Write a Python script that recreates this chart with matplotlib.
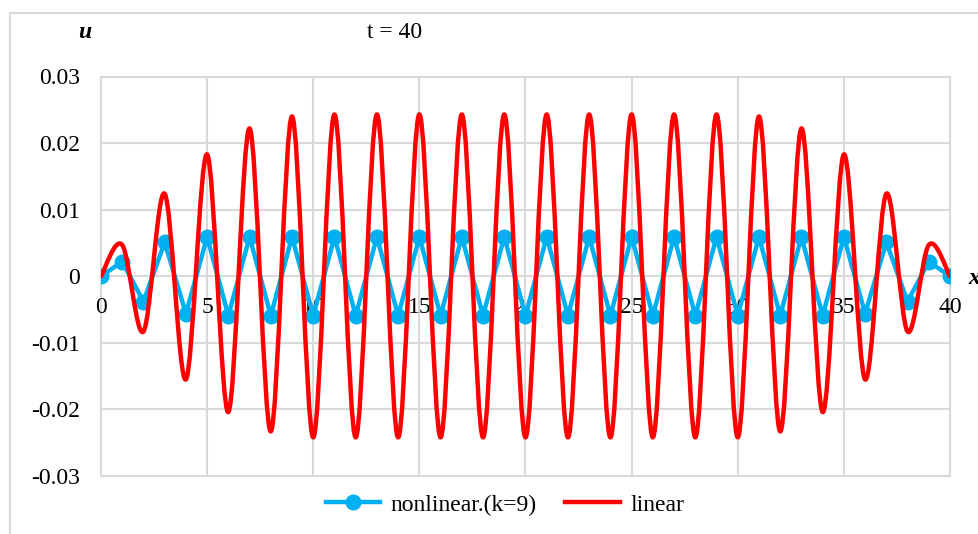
import matplotlib
matplotlib.use("Agg")
import matplotlib.pyplot as plt
from matplotlib.path import Path
from matplotlib.patches import PathPatch, Rectangle
from matplotlib.lines import Line2D

plt.rcParams['font.family'] = ['Liberation Serif', 'DejaVu Serif']
plt.rcParams['font.size'] = 17

# grid positions along the rod
x = list(range(0, 41))

# nonlinear solution (k=9), one value per grid point
nonlinear = [0, 0.0022, -0.0038, 0.0051, -0.0056, 0.0059, -0.0059, 0.0059, -0.0059, 0.0059,
             -0.0059, 0.0059, -0.0059, 0.0059, -0.0059, 0.0059, -0.0059, 0.0059, -0.0059, 0.0059,
             -0.0059, 0.0059, -0.0059, 0.0059, -0.0059, 0.0059, -0.0059, 0.0059, -0.0059, 0.0059,
             -0.0059, 0.0059, -0.0059, 0.0059, -0.0059, 0.0059, -0.0056, 0.0051, -0.0038, 0.0022, 0]

# linear solution
linear = [0, 0.0047, -0.0083, 0.0124, -0.0155, 0.0183, -0.0204, 0.0222, -0.0233, 0.0240,
          -0.0242, 0.0243, -0.0242, 0.0243, -0.0242, 0.0243, -0.0242, 0.0243, -0.0242, 0.0243,
          -0.0242, 0.0243, -0.0242, 0.0243, -0.0242, 0.0243, -0.0242, 0.0243, -0.0242, 0.0243,
          -0.0242, 0.0240, -0.0233, 0.0222, -0.0204, 0.0183, -0.0155, 0.0124, -0.0083, 0.0047, 0]

xticks = [0, 5, 10, 15, 20, 25, 30, 35, 40]
yticks = [-0.03, -0.02, -0.01, 0, 0.01, 0.02, 0.03]
ytick_labels = ["-0.03", "-0.02", "-0.01", "0", "0.01", "0.02", "0.03"]

BLUE = "#00B0F0"
RED = "#FF0000"
GRID = "#D9D9D9"
LW = 3.2
MS = 10.5


def smooth_path(xs, ys):
    """bezier path through the points, same kind of smoothing a spreadsheet uses"""
    pts = list(zip(xs, ys))
    n = len(pts)
    verts = [pts[0]]
    codes = [Path.MOVETO]
    for i in range(n - 1):
        p0 = pts[i - 1] if i > 0 else pts[i]
        p1 = pts[i]
        p2 = pts[i + 1]
        p3 = pts[i + 2] if i + 2 < n else pts[i + 1]
        c1 = (p1[0] + (p2[0] - p0[0]) / 6, p1[1] + (p2[1] - p0[1]) / 6)
        c2 = (p2[0] - (p3[0] - p1[0]) / 6, p2[1] - (p3[1] - p1[1]) / 6)
        verts += [c1, c2, p2]
        codes += [Path.CURVE4] * 3
    return Path(verts, codes)


fig = plt.figure(figsize=(9.79, 5.34), dpi=100)
ax = fig.add_axes([101 / 979, 58 / 534, 849 / 979, 399.5 / 534])

ax.plot(x, nonlinear, color=BLUE, lw=LW, marker="o", ms=MS, zorder=3)
ax.add_patch(PathPatch(smooth_path(x, linear), fill=False, edgecolor=RED, lw=LW,
                       zorder=4, capstyle="round", joinstyle="round"))

ax.set_xlim(0, 40)
ax.set_ylim(-0.03, 0.03)
ax.set_xticks(xticks)
ax.set_xticklabels([str(t) for t in xticks])
ax.set_yticks(yticks)
ax.set_yticklabels(ytick_labels)

# x labels hang under the zero line
ax.spines['bottom'].set_position(('data', 0))
for s in ax.spines.values():
    s.set_visible(False)
ax.tick_params(axis='x', length=0, pad=15)
ax.tick_params(axis='y', length=0, pad=15)

ax.grid(True, color=GRID, lw=1.5)
ax.set_axisbelow(True)
for gl in ax.get_xgridlines() + ax.get_ygridlines():
    gl.set_clip_on(False)

# chart frame
fig.add_artist(Rectangle((10 / 979, -0.1), 1.2, 1 - 13 / 534 + 0.1,
                         transform=fig.transFigure, fill=False,
                         edgecolor=GRID, lw=1.5))

fig.text(85 / 979, 1 - 32 / 534, "u", ha="center", va="center",
         fontweight="bold", fontstyle="italic")
fig.text(395 / 979, 1 - 32 / 534, "t = 40", ha="center", va="center")
fig.text(968 / 979, 1 - 279 / 534, "x", ha="left", va="center",
         fontweight="bold", fontstyle="italic")

handles = [Line2D([], [], color=BLUE, lw=LW, marker="o", ms=MS),
           Line2D([], [], color=RED, lw=LW)]
fig.legend(handles, ["nonlinear.(k=9)", "linear"], loc="center",
           bbox_to_anchor=(505 / 979, 1 - 505 / 534), ncol=2, frameon=False,
           handlelength=2.3, handletextpad=0.45, columnspacing=1.2)

fig.savefig("out.png", dpi=100)
